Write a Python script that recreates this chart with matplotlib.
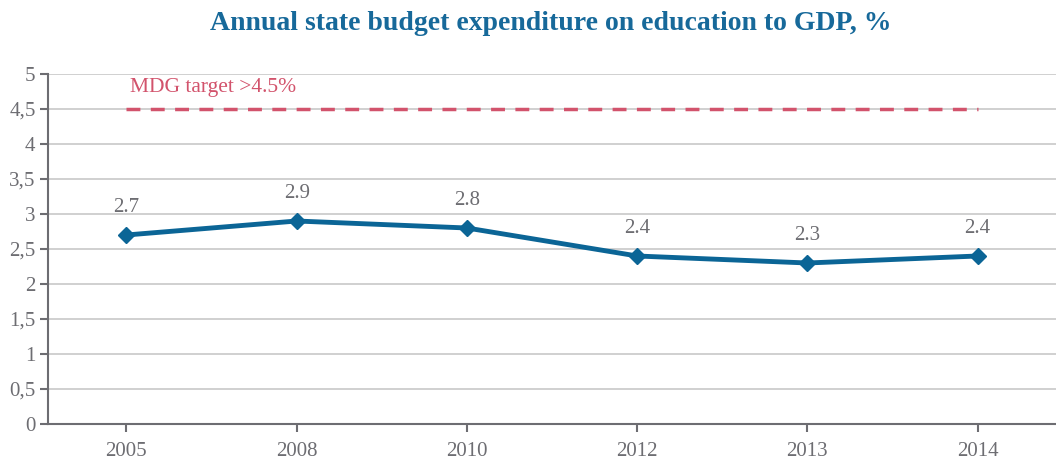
import matplotlib
matplotlib.use('Agg')
import matplotlib.pyplot as plt

years = ['2005', '2008', '2010', '2012', '2013', '2014']
spending = [2.7, 2.9, 2.8, 2.4, 2.3, 2.4]
target = 4.5
y_ticks = [0, 0.5, 1, 1.5, 2, 2.5, 3, 3.5, 4, 4.5, 5]
y_labels = ['0', '0,5', '1', '1,5', '2', '2,5', '3', '3,5', '4', '4,5', '5']

plt.rcParams['font.family'] = ['Liberation Serif', 'DejaVu Serif']

blue = '#0b6596'
red = '#d2536c'
gray = '#6d6d72'

fig = plt.figure(figsize=(10.56, 4.62), dpi=100)
ax = fig.add_axes([0.0455, 0.0823, 0.9545, 0.7575])

x = list(range(len(years)))
ax.plot(x, [target] * len(x), color=red, lw=2.5, dashes=(4, 3))
ax.text(0.02, 4.67, 'MDG target >4.5%', color=red, fontsize=15.5, va='bottom', ha='left')

ax.plot(x, spending, color=blue, lw=3.5, marker='D', ms=8, zorder=3)
for xi, v in zip(x, spending):
    ax.annotate(str(v), (xi, v), xytext=(0, 13), textcoords='offset points',
                ha='center', va='bottom', color=gray, fontsize=15)

ax.set_xlim(-0.46, len(years) - 1 + 0.46)
ax.set_ylim(0, 5)
ax.set_xticks(x)
ax.set_xticklabels(years)
ax.set_yticks(y_ticks)
ax.set_yticklabels(y_labels)
ax.grid(axis='y', color='#c8c8c8', lw=1.2)
ax.set_axisbelow(True)

for s in ['top', 'right']:
    ax.spines[s].set_visible(False)
for s in ['left', 'bottom']:
    ax.spines[s].set_color(gray)
    ax.spines[s].set_linewidth(1.5)
ax.tick_params(colors=gray, labelsize=15, width=1.5, length=6)
ax.tick_params(axis='x', pad=7)
ax.tick_params(axis='y', pad=3)

fig.text(0.522, 0.95, 'Annual state budget expenditure on education to GDP, %',
         ha='center', va='center', fontsize=20, fontweight='bold', color='#17699a')

fig.savefig('out.png', dpi=100)
